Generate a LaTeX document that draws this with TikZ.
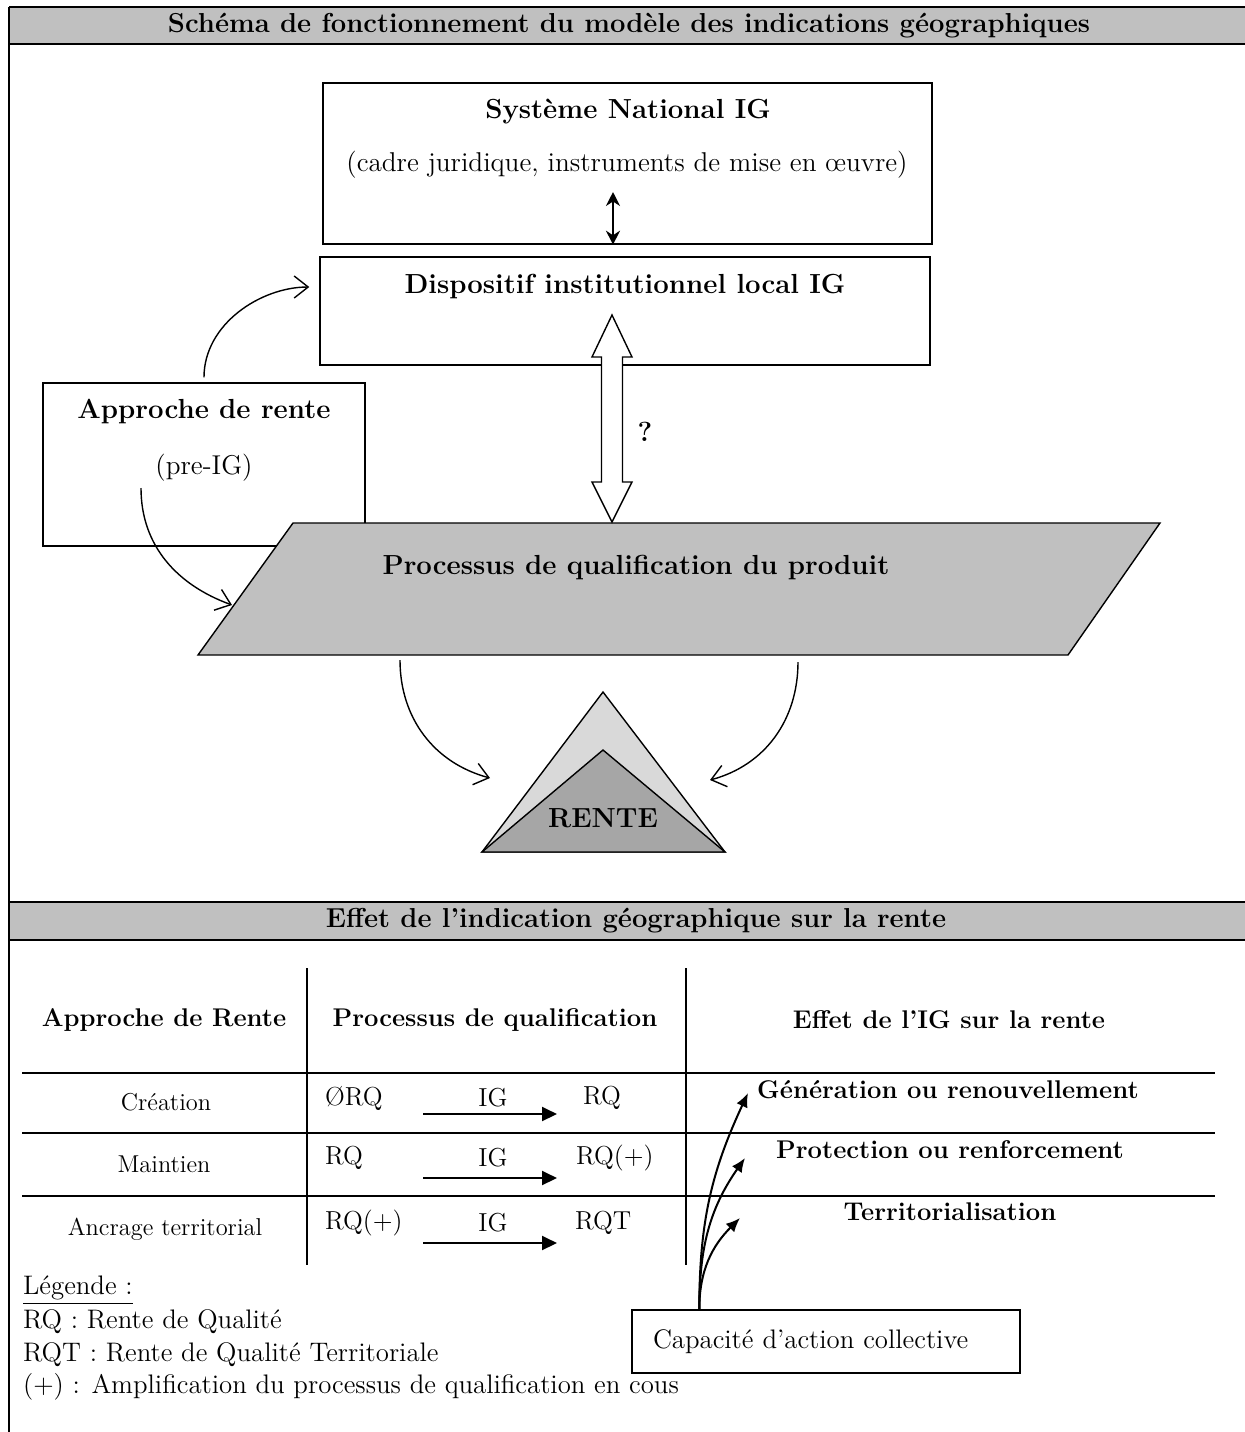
\documentclass[tikz,border=0pt]{standalone}
\usepackage{tikz}
\usetikzlibrary{arrows.meta, calc}

\definecolor{bandgray}{HTML}{C0C0C0}
\definecolor{peaklight}{HTML}{D9D9D9}
\definecolor{peakdark}{HTML}{A6A6A6}

\tikzset{
  box/.style = {draw, line width = 0.7pt, inner sep = 0pt},
  bandline/.style = {line width = 1pt},
  tableline/.style = {line width = 0.7pt},
  headtext/.style = {font = \fontsize{13.7}{16}\selectfont\bfseries},
  diagbold/.style = {font = \fontsize{13.8}{16}\selectfont\bfseries},
  diagplain/.style = {font = \fontsize{13.6}{16}\selectfont},
  tabbold/.style = {font = \fontsize{12.8}{15}\selectfont\bfseries},
  tabplain/.style = {font = \fontsize{13}{15}\selectfont},
  rowtext/.style = {font = \fontsize{12.2}{14}\selectfont},
  legtext/.style = {font = \fontsize{13.4}{16}\selectfont},
  bendarrow/.style = {-{Straight Barb[length = 7pt, width = 11pt]}, line width = 0.7pt},
  igarrow/.style = {-{Triangle[length = 7.5pt, width = 7pt]}, line width = 1pt},
  caparrow/.style = {-{Latex[length = 7pt, width = 6pt]}, line width = 1pt}
}

\begin{document}
\begin{tikzpicture}[x = 0.5pt, y = 0.5pt]
\useasboundingbox (0,0) rectangle (1245,-1432);

% title bands and frame
\fill [bandgray] (9,-7) rectangle (1245,-44);
\draw [bandline] (9,-7) -- (1245,-7);
\draw [bandline] (9,-44) -- (1245,-44);
\node [headtext] (title) at (629,-26) {Schéma de fonctionnement du modèle des indications géographiques};
\fill [bandgray] (9,-902) rectangle (1245,-940);
\draw [bandline] (9,-902) -- (1245,-902);
\draw [bandline] (9,-940) -- (1245,-940);
\node [headtext] (effet) at (636,-921) {Effet de l'indication géographique sur la rente};
\draw [line width = 1pt] (9,-7) -- (9,-1432);

% upper boxes
\node [box, minimum width = 304.5pt, minimum height = 80.5pt] (nat) at (627.5,-163.5) {};
\node [diagbold] (nattitle) at (628,-112) {Système National IG};
\node [diagplain] (natsub) at (627,-165) {(cadre juridique, instruments de mise en œuvre)};
\node [box, minimum width = 305pt, minimum height = 54pt] (disp) at (625,-311) {};
\node [diagbold] (disptext) at (625,-287) {Dispositif institutionnel local IG};
\node [box, minimum width = 161pt, minimum height = 81.5pt] (appr) at (204,-464.5) {};
\node [diagbold] (apprtitle) at (204,-412) {Approche de rente};
\node [diagplain] (apprsub) at (204,-468) {(pre-IG)};

\coordinate (linktop) at (613,-192);
\draw [{Stealth[length = 7pt, width = 7pt]}-{Stealth[length = 7pt, width = 7pt]}, line width = 0.8pt] (linktop) -- (linktop |- nat.south);

% processus
\fill [bandgray] (293,-523) -- (1160,-523) -- (1068,-655) -- (198,-655) -- cycle;
\draw [line width = 0.7pt] (293,-523) -- (1160,-523) -- (1068,-655) -- (198,-655) -- cycle;
\node [diagbold] (proc) at (636,-568) {Processus de qualification du produit};

% hollow double arrow
\draw [fill = white, line width = 0.7pt] (612,-315) -- (632,-357) -- (622.5,-357) -- (622.5,-482)
  -- (632,-482) -- (612,-522) -- (592,-482) -- (601.5,-482) -- (601.5,-357) -- (592,-357) -- cycle;
\node [diagbold] (quest) at (645,-432) {?};

% rente
\fill [peaklight, draw = black, line width = 0.7pt] (482,-852) -- (603,-692) -- (725,-852) -- cycle;
\fill [peakdark, draw = black, line width = 0.7pt] (482,-852) -- (603,-750) -- (725,-852) -- cycle;
\node [diagbold] (rente) at (603,-818) {RENTE};

% curved arrows
\coordinate (approut) at (141,-488);
\coordinate (procin) at (232,-605);
\coordinate (procoutl) at (400,-660);
\coordinate (procoutr) at (798,-662);
\coordinate (rentel) at (490,-778);
\coordinate (renter) at (710,-780);
\draw [bendarrow, shorten <= 2.5pt, shorten >= 5pt] (appr.north) to [out = 90, in = 180] (disp.west |- disptext);
\draw [bendarrow] (approut) to [out = -90, in = 160] (procin);
\draw [bendarrow] (procoutl) to [out = -90, in = 165] (rentel);
\draw [bendarrow] (procoutr) to [out = -90, in = 15] (renter);

% table
\draw [tableline] (307,-968) -- (307,-1265);
\draw [tableline] (686,-968) -- (686,-1265);
\draw [tableline] (22,-1073) -- (1215,-1073);
\draw [tableline] (22,-1133) -- (1215,-1133);
\draw [tableline] (22,-1196) -- (1215,-1196);
\node [tabbold] (colA) at (164,-1020) {Approche de Rente};
\node [tabbold] (colB) at (495,-1020) {Processus de qualification};
\node [tabbold] (colC) at (949,-1020) {Effet de l'IG sur la rente};

\node [rowtext] (crea) at (166,-1102) {Création};
\node [rowtext] (main) at (164,-1164) {Maintien};
\node [rowtext] (ancr) at (165,-1229) {Ancrage territorial};

\node [tabplain, anchor = west] (fromA) at (318,-1098) {ØRQ};
\node [tabplain] (igA) at (493,-1098) {IG};
\node [tabplain, anchor = west] (toA) at (576,-1098) {RQ};
\coordinate (arrAs) at (423,-1114);
\coordinate (arrAe) at (557,-1114);
\draw [igarrow] (arrAs) -- (arrAe);
\node [tabplain, anchor = west] (fromB) at (318,-1158) {RQ};
\node [tabplain] (igB) at (493,-1158) {IG};
\node [tabplain, anchor = west] (toB) at (569,-1158) {RQ(+)};
\coordinate (arrBs) at (423,-1178);
\coordinate (arrBe) at (557,-1178);
\draw [igarrow] (arrBs) -- (arrBe);
\node [tabplain, anchor = west] (fromC) at (318,-1223) {RQ(+)};
\node [tabplain] (igC) at (493,-1223) {IG};
\node [tabplain, anchor = west] (toC) at (568,-1223) {RQT};
\coordinate (arrCs) at (423,-1243);
\coordinate (arrCe) at (557,-1243);
\draw [igarrow] (arrCs) -- (arrCe);

\node [tabbold] (gene) at (948,-1090) {Génération ou renouvellement};
\node [tabbold] (prot) at (950,-1150) {Protection ou renforcement};
\node [tabbold] (terr) at (950,-1212) {Territorialisation};

% capacite
\node [box, legtext, text width = 173pt, inner xsep = 10.5pt, minimum height = 31.5pt, align = left] (cap) at (826,-1341.5) {Capacité d'action collective};
\coordinate (capsrc) at ($(cap.north west)+(68,0)$);
\coordinate (geneto) at (748,-1093);
\coordinate (protto) at (745,-1158);
\coordinate (terrto) at (740,-1218);
\draw [caparrow] (capsrc) to [out = 90, in = 245] (geneto);
\draw [caparrow] (capsrc) to [out = 90, in = 235] (protto);
\draw [caparrow] (capsrc) to [out = 90, in = 225] (terrto);

% legend
\node [legtext, anchor = west] (leg) at (16,-1290) {\underline{Légende~:}};
\node [legtext, anchor = west] (legRQ) at (16,-1322) {RQ : Rente de Qualité};
\node [legtext, anchor = west] (legRQT) at (16,-1355) {RQT : Rente de Qualité Territoriale};
\node [legtext, anchor = west] (legPlus) at (16,-1387) {(+) : Amplification du processus de qualification en cous};
\end{tikzpicture}
\end{document}
